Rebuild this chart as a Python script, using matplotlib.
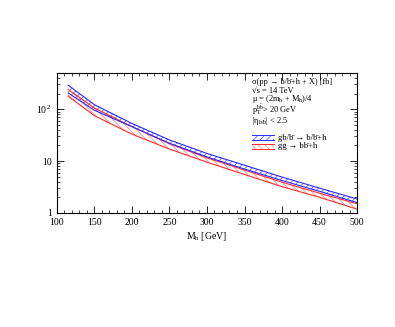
import matplotlib

matplotlib.use("Agg")

import matplotlib.pyplot as plt
from matplotlib.patches import Rectangle
from matplotlib.ticker import LogLocator, MultipleLocator, FixedLocator

plt.rcParams["font.family"] = ["Liberation Serif", "DejaVu Serif"]
plt.rcParams["mathtext.fontset"] = "custom"
plt.rcParams["mathtext.rm"] = "Liberation Serif"
plt.rcParams["mathtext.it"] = "Liberation Serif:italic"
plt.rcParams["hatch.linewidth"] = 0.6

mass = [115, 150, 200, 250, 300, 350, 400, 450, 500]
gb_upper = [290, 122, 53, 25.5, 14.0, 8.3, 4.9, 3.0, 1.85]
gb_lower = [205, 95, 46, 22.0, 12.0, 7.0, 4.2, 2.6, 1.58]
gg_upper = [240, 105, 46, 21.5, 11.5, 6.7, 3.9, 2.4, 1.5]
gg_lower = [178, 75, 33, 17.0, 9.5, 5.5, 3.2, 2.0, 1.18]

bbar = "b\u0304"
info_lines = [
    f"σ(pp → b/{bbar}+h + X) [fb]",
    "\u221as = 14 TeV",
    r"μ = (2m$_{\rm b}$ + M$_{\rm h}$)/4",
    r"p$_{\rm T}^{\rm b\bar{b}}$> 20 GeV",
    r"|η$_{\rm b/\bar{b}}$| < 2.5",
]
legend_labels = [
    f"gb/{bbar} → b/{bbar}+h",
    f"gg → b{bbar}+h",
]

blue = "#2a2aff"
red = "#ff2a2a"
pink = "#ff8c8c"
light_blue = "#6a6aff"
red_hatch = "\\" * 5
blue_hatch = "/" * 5

fig = plt.figure(figsize=(3.95, 3.27), dpi=100)
ax = fig.add_axes([0.144, 0.349, 0.76, 0.428])

ax.fill_between(mass, gg_lower, gg_upper, facecolor="none", edgecolor=pink,
                hatch=red_hatch, linewidth=0)
ax.plot(mass, gg_upper, color=red, lw=0.8)
ax.plot(mass, gg_lower, color=red, lw=0.8)
ax.fill_between(mass, gb_lower, gb_upper, facecolor="none", edgecolor=light_blue,
                hatch=blue_hatch, linewidth=0)
ax.plot(mass, gb_upper, color=blue, lw=0.8)
ax.plot(mass, gb_lower, color=blue, lw=0.8)

ax.set_yscale("log")
ax.set_xlim(100, 500)
ax.set_ylim(1, 500)
ax.xaxis.set_major_locator(MultipleLocator(50))
ax.xaxis.set_minor_locator(MultipleLocator(10))
ax.yaxis.set_major_locator(FixedLocator([1, 10, 100]))
ax.yaxis.set_minor_locator(LogLocator(base=10, subs=range(2, 10)))
ax.set_yticklabels(["1", "10", r"10$^{\,2}$"])
ax.tick_params(which="both", direction="in", top=True, right=True, labelsize=7)
ax.tick_params(which="major", length=5, width=0.6)
ax.tick_params(which="minor", length=2.5, width=0.5)
for spine in ax.spines.values():
    spine.set_linewidth(0.8)

ax.set_xlabel(r"M$_{\rm h}$ [GeV]", fontsize=7, labelpad=2)

# the pT and eta lines carry super/subscripts, so give them a little more room
line_y = [0.936, 0.874, 0.812, 0.738, 0.660]
for y, text in zip(line_y, info_lines):
    ax.text(0.649, y, text, transform=ax.transAxes, fontsize=6.0, va="center")

hatch_colors = [light_blue, pink]
line_colors = [blue, red]
hatches = [blue_hatch, red_hatch]
for i, label in enumerate(legend_labels):
    y = 0.538 - i * 0.062
    ax.add_patch(Rectangle((0.649, y - 0.018), 0.074, 0.036, transform=ax.transAxes,
                           facecolor="none", edgecolor=hatch_colors[i],
                           hatch=hatches[i], lw=0))
    for dy in (0.018, -0.018):
        ax.plot([0.649, 0.723], [y + dy, y + dy], color=line_colors[i], lw=0.7,
                transform=ax.transAxes)
    ax.text(0.736, y, label, transform=ax.transAxes, fontsize=6.2, va="center")

fig.savefig("out.png", dpi=100)
